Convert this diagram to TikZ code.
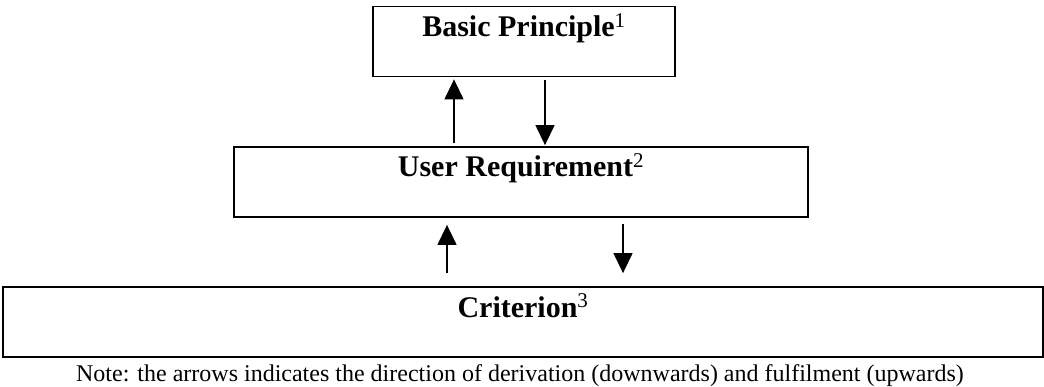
\documentclass[tikz,border=0pt]{standalone}
\usepackage{fontspec}
\setmainfont{Liberation Serif}
\usetikzlibrary{arrows.meta,positioning}

\begin{document}
\begin{tikzpicture}[x=1pt,y=-1pt,
  box/.style={draw,line width=1.8pt,inner xsep=0pt,inner ysep=0pt,minimum height=70pt,
    text height=30pt,text depth=40pt,font=\fontsize{30}{36}\selectfont\bfseries},
  flow/.style={-{Triangle[length=20pt,width=19pt]},line width=1.3pt}]
 \useasboundingbox (0,0) rectangle (1044,387);
 % the three levels
 \node[box,minimum width=302pt] (prin) at (524,41.5) {Basic Principle\textsuperscript{\mdseries 1}};
 \node[box,minimum width=574pt] (req) at (521,182) {User Requirement\textsuperscript{\mdseries 2}};
 \node[box,minimum width=1040pt] (crit) at (523,322) {Criterion\textsuperscript{\mdseries 3}};
 \node[font=\fontsize{24}{28}\selectfont,anchor=base] (note) at (520,381)
  {Note: the arrows indicates the direction of derivation (downwards) and fulfilment (upwards)};
 % fulfilment (up) and derivation (down)
 \draw[flow,shorten <=3pt,shorten >=2pt] (req.north -| 454,0) -- (prin.south -| 454,0);
 \draw[flow,shorten <=3pt,shorten >=1pt] (prin.south -| 545,0) -- (req.north -| 545,0);
 \draw[flow,shorten <=13pt,shorten >=7pt] (crit.north -| 447,0) -- (req.south -| 447,0);
 \draw[flow,shorten <=6pt,shorten >=13pt] (req.south -| 623,0) -- (crit.north -| 623,0);
\end{tikzpicture}
\end{document}
